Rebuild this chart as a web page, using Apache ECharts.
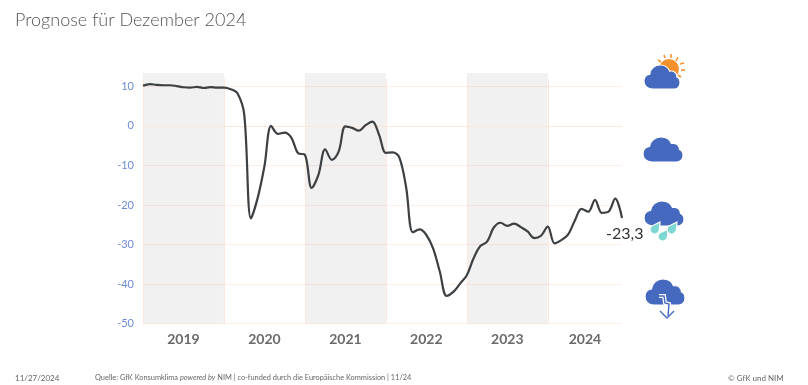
<!DOCTYPE html>
<html><head><meta charset="utf-8">
<style>html,body{margin:0;padding:0;background:#fff}#c{width:808px;height:385px}</style>
<script src="https://cdn.jsdelivr.net/npm/echarts@6/dist/echarts.min.js"></script>
</head><body><div id="c"></div>
<script>
const titleText = 'Prognose für Dezember 2024';
const consumerClimate = [
  10.2,10.6,10.4,10.3,10.3,10.1,9.8,9.7,9.9,9.6,9.8,9.7,
  9.7,9.3,8.3,3.0,-23.4,-18.2,-10.2,0,-2,-1.7,-3,-6.9,
  -7.3,-15.7,-12.4,-5.9,-8.6,-6.5,-0.1,-0.5,-1.2,0.2,1.1,-2.3,
  -6.8,-6.7,-8,-15.5,-26.9,-26.2,-27.6,-31,-36.9,-43,-42,-39.9,
  -37.8,-33.5,-30.4,-29.3,-25.7,-24.5,-25.3,-24.7,-25.6,-26.7,-28.4,-27.8,
  -25.5,-29.7,-28.9,-27.5,-24,-21,-21.7,-18.7,-22,-21.7,-18.4,-23.3
];
const yearLabels = ['2019','2020','2021','2022','2023','2024'];
const yearCentres = [6,18,30,42,54,65.5];
const bandRanges = [[0,12],[24,36],[48,60]];
const yearEdges = [0,12,24,36,48,60];
const finalLabel = '-23,3';
const footerDate = '11/27/2024';
const footerCopy = '© GfK und NIM';

const FONT = 'Lato, "Open Sans", sans-serif';
echarts.graphic.registerShape('cloudIcon', echarts.graphic.extendPath('M9,25 C3.5,25 0,21.5 0,17 C0,12.5 3,10 6.5,9.5 C7,4 12,0 18,0 C23,0 27,3 28.5,6.5 C33,5.5 36.5,8.5 36.5,12.5 C39,13.5 40,16 40,18.5 C40,22.5 37,25 33.5,25 Z'));
echarts.graphic.registerShape('dropIcon', echarts.graphic.extendPath('M10,0 L9.5,7 C9.5,10 7,12 4.5,12 C2,12 0,10 0,7.5 C0,5 2,3.5 4,3 Z'));
const cloud = (x,y,w,h) => ({type:'cloudIcon',z:10,x,y,scaleX:w/40,scaleY:h/25,shape:{},style:{fill:'#4569bf',stroke:'#fff',lineWidth:1.2}});
const drop = (x,y) => ({type:'dropIcon',z:12,x,y,shape:{},style:{fill:'#7dd8d4',stroke:'#fff',lineWidth:1.2}});
const ray = (x1,y1,x2,y2) => ({type:'line',z:9,shape:{x1,y1,x2,y2},style:{stroke:'#f6922d',lineWidth:1.6}});

const chart = echarts.init(document.getElementById('c'),null,{renderer:'canvas'});
const vLines = yearEdges.map(v => [{coord:[v,-50]},{coord:[v,11.9]}]);
chart.setOption({
  animation:false,
  backgroundColor:'#fff',
  title:{text:titleText,left:10,top:6,textStyle:{fontFamily:FONT,fontWeight:300,fontSize:18,color:'#555'}},
  grid:{left:143,right:186,top:73,bottom:61.5},
  xAxis:{type:'value',min:0,max:71,axisLine:{show:false},axisTick:{show:false},axisLabel:{show:false},splitLine:{show:false}},
  yAxis:{type:'value',min:-50,max:13.4,interval:10,
    axisLine:{show:false},axisTick:{show:false},
    axisLabel:{margin:9,color:'#6d8cd5',fontFamily:FONT,fontSize:11,showMaxLabel:false,formatter:v=>String(v)},
    splitLine:{showMaxLine:false,lineStyle:{width:1,color:'#fdeee6'}}},
  series:[
    {type:'line',z:1,silent:true,data:[],
      markArea:{silent:true,itemStyle:{color:'rgba(0,0,0,0.055)'},data:bandRanges.map(r=>[{xAxis:r[0]},{xAxis:r[1]}])},
      markLine:{silent:true,symbol:'none',label:{show:false},lineStyle:{color:'#fde6dc',width:1,type:'solid'},
        data:[...vLines,[{coord:[0,0]},{coord:[71,0]}]]}
    },
    {type:'line',z:5,data:consumerClimate.map((v,i)=>[i,v]),
      showSymbol:false,smooth:0.35,clip:false,
      lineStyle:{color:'#3d4043',width:2.2},
      endLabel:{show:true,formatter:finalLabel,offset:[-24,16],fontSize:16,fontFamily:FONT,color:'#333'}
    },
    {type:'scatter',symbolSize:0,silent:true,
      data:yearLabels.map((y,i)=>({value:[yearCentres[i],-50],label:{show:true,formatter:y,position:'bottom',distance:9,fontSize:14,fontWeight:'bold',fontFamily:FONT,color:'#444'}}))}
  ],
  graphic:[
    {type:'sector',z:8,shape:{cx:669,cy:69,r:10,r0:0,startAngle:0,endAngle:Math.PI*2},style:{fill:'#f6922d'}},
    ray(658,60,661,62),ray(664,55,665,58),ray(671,54,671,58),ray(678,57,676,61),ray(684,63,680,64),ray(685,70,681,70),ray(681,77,678,75),
    cloud(644,65,36,24),
    cloud(643,137,40,25),
    cloud(644,201,40,25),
    drop(650,222),drop(658,229),drop(667,222),
    cloud(645,279,40,26),
    {type:'polyline',z:12,shape:{points:[[659,296],[664,296],[665,303],[669,304],[669,313]]},style:{fill:'none',stroke:'#fff',lineWidth:4}},
    {type:'polyline',z:13,shape:{points:[[659,296],[664,296],[665,303],[669,304],[668,316]]},style:{fill:'none',stroke:'#4569bf',lineWidth:1.4}},
    {type:'polyline',z:13,shape:{points:[[660,311],[667,318],[674,311]]},style:{fill:'none',stroke:'#4569bf',lineWidth:1.4}},
    {type:'text',left:15,top:374,z:20,style:{text:footerDate,font:'8px '+FONT,fill:'#666'}},
    {type:'text',left:95,top:374,z:20,style:{
      text:'Quelle: GfK Konsumklima {i|powered by} NIM | co-funded durch die Europäische Kommission | 11/24',
      font:'7.4px '+FONT,fill:'#666',rich:{i:{fontStyle:'italic',fontSize:7.4,fontFamily:FONT,fill:'#666'}}}},
    {type:'text',left:728,top:374,z:20,style:{text:footerCopy,font:'8px '+FONT,fill:'#666'}}
  ]
});
</script></body></html>
